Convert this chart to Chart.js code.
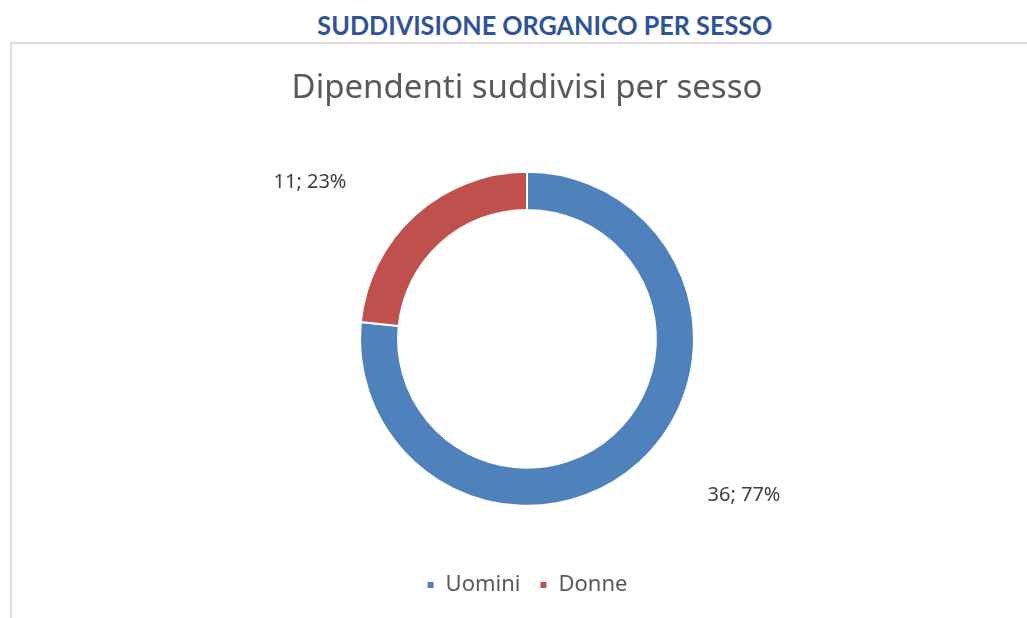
<!DOCTYPE html>
<html>
<head>
<meta charset="utf-8">
<script src="https://cdn.jsdelivr.net/npm/chart.js@4.4.1/dist/chart.umd.min.js"></script>
<style>
  html, body { margin: 0; padding: 0; background: #ffffff; width: 1027px; height: 618px; overflow: hidden; }
  #heading { position: absolute; left: 0; top: 9px; width: 1090px; text-align: center;
    font-family: Lato, "Open Sans", sans-serif; font-weight: bold; font-size: 26px; color: #2F5496; white-space: nowrap; }
  #heading span { display: inline-block; transform-origin: center; }
  #box { position: absolute; left: 10px; top: 42px; width: 1017px; height: 576px;
    border-left: 2px solid #dcdcdc; border-top: 2px solid #dcdcdc; box-sizing: border-box; }
  #chart { position: absolute; left: 0; top: 0; }
</style>
</head>
<body>
<div id="heading"><span id="headtxt">SUDDIVISIONE ORGANICO PER SESSO</span></div>
<div id="box"><canvas id="chart" width="1015" height="574"></canvas></div>
<script>
const categories = ["Uomini", "Donne"];
const values = [36, 11];
const colors = ["#4F81BD", "#C0504D"];
const chartTitle = "Dipendenti suddivisi per sesso";

// fit heading width
(function(){
  const s = document.getElementById('headtxt');
  const w = s.getBoundingClientRect().width;
  s.style.transform = 'scaleX(' + (455 / w) + ')';
})();

const total = values.reduce((a, b) => a + b, 0);

const labelPlugin = {
  id: 'outLabels',
  afterDatasetsDraw(chart) {
    const ctx = chart.ctx;
    const meta = chart.getDatasetMeta(0);
    ctx.save();
    ctx.font = '20px "Noto Sans"';
    ctx.fillStyle = '#404040';
    ctx.textAlign = 'center';
    ctx.textBaseline = 'middle';
    meta.data.forEach((arc, i) => {
      const p = arc.getProps(['x', 'y', 'startAngle', 'endAngle', 'outerRadius'], true);
      const mid = (p.startAngle + p.endAngle) / 2;
      const cx = Math.cos(mid), sy = Math.sin(mid);
      const ax = p.x + cx * p.outerRadius;
      const ay = p.y + sy * p.outerRadius;
      const lx = ax + Math.sign(cx) * 105;
      const ly = ay + Math.sign(sy) * 33;
      const pct = Math.round(values[i] / total * 100);
      ctx.fillText(values[i] + '; ' + pct + '%', lx, ly);
    });
    ctx.restore();
  }
};

new Chart(document.getElementById('chart'), {
  type: 'doughnut',
  data: {
    labels: categories,
    datasets: [{
      data: values,
      backgroundColor: colors,
      borderColor: '#ffffff',
      borderWidth: 2,
      radius: 167,
      cutout: '77.2%'
    }]
  },
  options: {
    responsive: false,
    animation: false,
    layout: { padding: { left: 15, right: 0, top: 0, bottom: 12 } },
    plugins: {
      title: {
        display: true,
        text: chartTitle,
        color: '#595959',
        font: { family: '"Noto Sans"', size: 33, weight: 'normal' },
        padding: { top: 25, bottom: 14 }
      },
      legend: {
        position: 'bottom',
        labels: {
          boxWidth: 8,
          boxHeight: 8,
          padding: 19,
          color: '#595959',
          font: { family: '"Noto Sans"', size: 22 }
        }
      },
      tooltip: { enabled: false }
    }
  },
  plugins: [labelPlugin]
});
</script>
</body>
</html>
